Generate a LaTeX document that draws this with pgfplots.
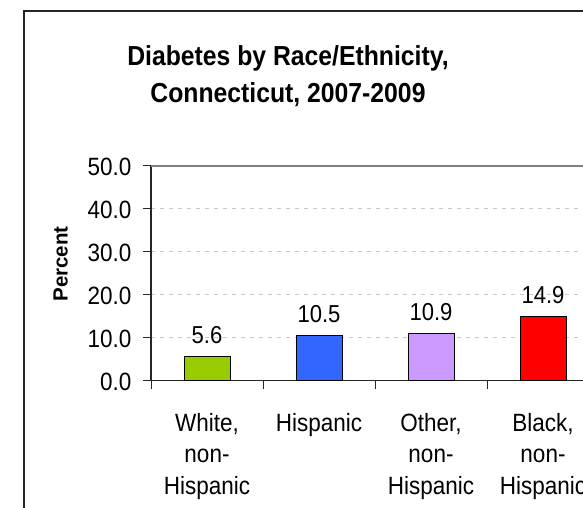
\documentclass[border=0pt]{standalone}
\usepackage{pgfplots}
\pgfplotsset{compat=1.18}
\usepackage{fontspec}
\setmainfont[FakeStretch=0.9]{Liberation Sans}
\newfontfamily\plainsans{Liberation Sans}
\definecolor{cgreen}{HTML}{99CC00}
\definecolor{cblue}{HTML}{3366FF}
\definecolor{clav}{HTML}{CC99FF}
\definecolor{cred}{HTML}{FF0000}
\definecolor{gridc}{RGB}{200,200,200}
\begin{document}
\begin{tikzpicture}[x=1pt,y=1pt]
\useasboundingbox (0,0) rectangle (583,508);
\clip (0,0) rectangle (583,508);
\fill[white] (0,0) rectangle (583,508);
\draw[line width=1.6pt, black!85] (24,-20) -- (24,497) -- (620,497);
\node[font=\fontsize{27.5}{32}\selectfont\bfseries, anchor=base] at (288,442) {Diabetes by Race/Ethnicity,};
\node[font=\fontsize{27.5}{32}\selectfont\bfseries, anchor=base] at (288,405) {Connecticut, 2007-2009};
\node[font=\plainsans\fontsize{20.5}{24}\selectfont\bfseries, rotate=90, anchor=base] at (67.5,244) {Percent};
\begin{axis}[
  at={(151pt,127.3pt)}, anchor=south west,
  scale only axis, width=560pt, height=215pt,
  xmin=-0.5, xmax=4.5, ymin=0, ymax=50,
  clip=false,
  axis lines=left,
  axis line style={-, line width=1.3pt, black!85},
  ybar, bar width=46pt, bar shift=0pt,
  /pgf/number format/assume math mode=true,
  ytick={0,10,20,30,40,50},
  yticklabel={\pgfmathprintnumber[fixed,fixed zerofill,precision=1]{\tick}},
  yticklabel style={font=\fontsize{25}{28}\selectfont, anchor=east, inner sep=0pt, xshift=-11.5pt, yshift=-1pt},
  xtick={-0.5,0.5,1.5,2.5,3.5},
  xticklabels={{White,\\non-\\Hispanic},Hispanic,{Other,\\non-\\Hispanic},{Black,\\non-\\Hispanic},{}},
  xticklabel style={font=\fontsize{25}{31.5}\selectfont, align=center, anchor=north, inner sep=0pt, xshift=56pt, yshift=-24pt},
  tick align=outside, major tick length=8pt,
  tick style={line width=1pt, black!85},
  ymajorgrids,
  major grid style={dash pattern=on 4pt off 5pt, line width=1.3pt, gridc},
  nodes near coords={\pgfmathprintnumber[fixed,fixed zerofill,precision=1]{\pgfplotspointmeta}},
  nodes near coords style={font=\fontsize{24.5}{28}\selectfont, anchor=base, inner sep=0pt, yshift=13pt, black},
]
\addplot[fill=cgreen, draw=black, line width=1pt] coordinates {(0,5.6)};
\addplot[fill=cblue, draw=black, line width=1pt] coordinates {(1,10.5)};
\addplot[fill=clav, draw=black, line width=1pt] coordinates {(2,10.9)};
\addplot[fill=cred, draw=black, line width=1pt] coordinates {(3,14.9)};
\draw[line width=2pt, gray] (rel axis cs:0,1) -- (rel axis cs:1,1);
\end{axis}
\end{tikzpicture}
\end{document}
